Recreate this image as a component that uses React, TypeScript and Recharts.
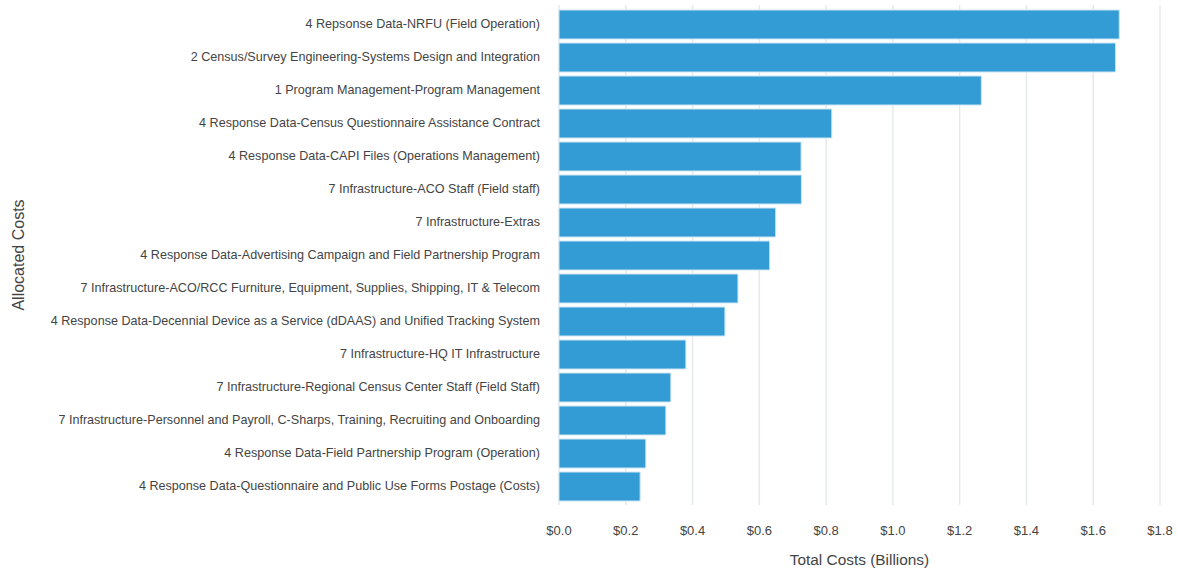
import React from 'react';
import { BarChart, Bar, XAxis, YAxis, CartesianGrid } from 'recharts';

const categories: string[] = [
  '4 Repsonse Data-NRFU (Field Operation)',
  '2 Census/Survey Engineering-Systems Design and Integration',
  '1 Program Management-Program Management',
  '4 Response Data-Census Questionnaire Assistance Contract',
  '4 Response Data-CAPI Files (Operations Management)',
  '7 Infrastructure-ACO Staff (Field staff)',
  '7 Infrastructure-Extras',
  '4 Response Data-Advertising Campaign and Field Partnership Program',
  '7 Infrastructure-ACO/RCC Furniture, Equipment, Supplies, Shipping, IT & Telecom',
  '4 Response Data-Decennial Device as a Service (dDAAS) and Unified Tracking System',
  '7 Infrastructure-HQ IT Infrastructure',
  '7 Infrastructure-Regional Census Center Staff (Field Staff)',
  '7 Infrastructure-Personnel and Payroll, C-Sharps, Training, Recruiting and Onboarding',
  '4 Response Data-Field Partnership Program (Operation)',
  '4 Response Data-Questionnaire and Public Use Forms Postage (Costs)',
];

const totalCosts: number[] = [
  1.678, 1.667, 1.265, 0.817, 0.725, 0.726, 0.649, 0.631, 0.536, 0.497, 0.38, 0.335, 0.32, 0.26, 0.243,
];

const xTicks: number[] = [0, 0.2, 0.4, 0.6, 0.8, 1.0, 1.2, 1.4, 1.6, 1.8];

const data = categories.map((name, i) => ({ name, value: totalCosts[i] }));

const FONT = '"Liberation Sans", Arial, sans-serif';
const TEXT = '#444444';

const YTitle = (props: any) => {
  const vb = props.viewBox || {};
  const cx = 18;
  const cy = vb.y + vb.height / 2;
  return (
    <text
      x={cx}
      y={cy}
      transform={`rotate(-90, ${cx}, ${cy})`}
      textAnchor="middle"
      dominantBaseline="central"
      fontFamily={FONT}
      fontSize={16}
      fill={TEXT}
    >
      Allocated Costs
    </text>
  );
};

const XTitle = (props: any) => {
  const vb = props.viewBox || {};
  const cx = vb.x + vb.width / 2;
  const cy = 559;
  return (
    <text
      x={cx}
      y={cy}
      textAnchor="middle"
      dominantBaseline="central"
      fontFamily={FONT}
      fontSize={15.4}
      fill={TEXT}
    >
      Total Costs (Billions)
    </text>
  );
};

const CategoryTick = (props: any) => {
  const { x, y, payload } = props;
  return (
    <text
      x={x}
      y={y - 1}
      textAnchor="end"
      dominantBaseline="central"
      fontFamily={FONT}
      fontSize={12.6}
      fill={TEXT}
    >
      {payload.value}
    </text>
  );
};

export default function App() {
  return (
    <div style={{ position: 'absolute', left: 0, top: 0, width: 1178, height: 571, background: '#fff' }}>
      <BarChart
        width={1178}
        height={571}
        data={data}
        layout="vertical"
        margin={{ top: 5, right: 18, bottom: 0, left: 0 }}
        barCategoryGap={2}
      >
        <CartesianGrid vertical={true} horizontal={false} stroke="#e4eaec" strokeWidth={1.5} />
        <XAxis
          type="number"
          domain={[0, 1.8]}
          ticks={xTicks}
          tickFormatter={(v: number) => `$${v.toFixed(1)}`}
          axisLine={false}
          tickLine={false}
          tickSize={0}
          tickMargin={21}
          height={66}
          tick={{ fill: TEXT, fontSize: 13, fontFamily: FONT }}
          label={<XTitle />}
        />
        <YAxis
          type="category"
          dataKey="name"
          width={559}
          axisLine={false}
          tickLine={false}
          tickSize={0}
          tickMargin={19}
          interval={0}
          padding={{ top: 3, bottom: 2 }}
          tick={<CategoryTick />}
          label={<YTitle />}
        />
        <Bar dataKey="value" fill="#339cd5" stroke="#cde6f4" strokeWidth={1} isAnimationActive={false} />
      </BarChart>
    </div>
  );
}
